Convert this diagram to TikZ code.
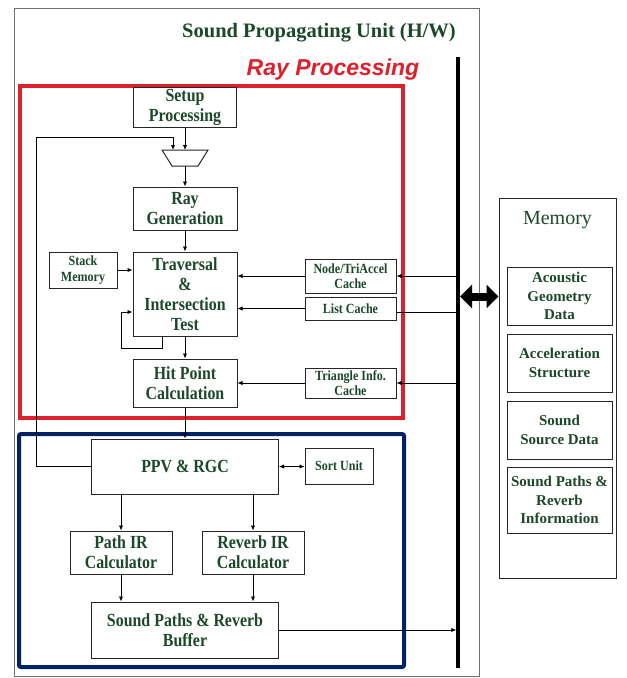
\documentclass[tikz,border=0pt]{standalone}
\usepackage{fontspec}
\setmainfont{Liberation Serif}
\newfontfamily\condfont[FakeStretch=0.86]{Liberation Serif}
\newfontfamily\arialfont{Liberation Sans}
\usetikzlibrary{arrows.meta}
\definecolor{txtgreen}{RGB}{28,72,42}
\definecolor{raybox}{RGB}{222,32,44}
\definecolor{navybox}{RGB}{0,33,99}
\definecolor{spugray}{RGB}{110,110,110}
\begin{document}
\begin{tikzpicture}[x=1pt,y=-1pt,
 blk/.style={draw=black!85, line width=1pt, fill=white, text=txtgreen, align=center, inner sep=0pt, font=\condfont\fontsize{18.5}{20}\selectfont\bfseries},
 smallblk/.style={blk, font=\condfont\fontsize{14}{15.5}\selectfont\bfseries},
 memblk/.style={blk, font=\fontsize{15}{18.5}\selectfont\bfseries},
 conn/.style={draw=black, line width=0.9pt, -{Latex[length=5pt,width=4.5pt]}},
 plainline/.style={draw=black, line width=0.9pt},
 bigarrow/.style={draw=black, fill=black, line width=8pt, {Triangle[length=12pt 0 0,width=23pt 0 0]}-{Triangle[length=12pt 0 0,width=23pt 0 0]}},
]
\useasboundingbox (0,0) rectangle (627,678);
% outer unit
\draw[spugray, line width=1pt] (14,8) rectangle (479,676);
\node[text=txtgreen, font=\fontsize{20.5}{24}\selectfont\bfseries] (title) at (319,33) {Sound Propagating Unit (H/W)};
\node[text=raybox, font=\arialfont\fontsize{23}{26}\selectfont\bfseries\itshape] (raytitle) at (333,70) {Ray Processing};
% group frames
\draw[raybox, line width=4pt] (20,86) rectangle (403,418);
\draw[navybox, line width=4pt, rounded corners=2pt] (19,434) rectangle (404,667);
% bus
\coordinate (bustop) at (458,57);
\coordinate (busbot) at (458,668);
\draw[black, line width=3.5pt] (bustop) -- (busbot);
% ray processing blocks
\node[blk, minimum width=103pt, minimum height=40pt] (setup) at (185,107) {Setup\\Processing};
\coordinate (muxtop) at (185,150);
\coordinate (muxbot) at (185,166);
\coordinate (muxin) at (173,150);
\draw[draw=black!85, line width=1pt, fill=white] (162,150) -- (208,150) -- (198,166) -- (172,166) -- cycle;
\node[blk, minimum width=104pt, minimum height=43pt] (raygen) at (185,208.5) {Ray\\Generation};
\node[blk, minimum width=104pt, minimum height=84pt] (trav) at (185,294) {Traversal\\\&\\Intersection\\Test};
\node[blk, minimum width=104pt, minimum height=48pt] (hit) at (185,383) {Hit Point\\Calculation};
\node[smallblk, minimum width=68pt, minimum height=36pt] (stack) at (83,270) {Stack\\Memory};
\node[smallblk, minimum width=91pt, minimum height=34pt] (nodecache) at (350.5,276) {Node/TriAccel\\Cache};
\node[smallblk, minimum width=91pt, minimum height=23pt] (listcache) at (350.5,308.5) {List Cache};
\node[smallblk, minimum width=91pt, minimum height=30pt] (tricache) at (350.5,383) {Triangle Info.\\Cache};
% sound blocks
\node[blk, minimum width=187pt, minimum height=55pt] (ppv) at (185,466.5) {PPV \& RGC};
\node[smallblk, minimum width=68pt, minimum height=36pt] (sort) at (339,466) {Sort Unit};
\node[blk, minimum width=102pt, minimum height=43pt] (pathir) at (121,552.5) {Path IR\\Calculator};
\node[blk, minimum width=102pt, minimum height=43pt] (revir) at (253,552.5) {Reverb IR\\Calculator};
\node[blk, minimum width=187pt, minimum height=56pt] (buffer) at (185,630) {Sound Paths \& Reverb\\Buffer};
% memory
\node[draw=black!85, line width=1pt, minimum width=117pt, minimum height=380pt] (mem) at (557.5,388) {};
\node[text=txtgreen, font=\fontsize{20}{24}\selectfont] (memtitle) at (557.5,220) {Memory};
\node[memblk, minimum width=105pt, minimum height=58pt] (m1) at (559.5,296) {Acoustic\\Geometry\\Data};
\node[memblk, minimum width=105pt, minimum height=58pt] (m2) at (559.5,363) {Acceleration\\Structure};
\node[memblk, minimum width=105pt, minimum height=58pt] (m3) at (559.5,430) {Sound\\Source Data};
\node[memblk, minimum width=105pt, minimum height=66pt] (m4) at (559.5,500) {Sound Paths \&\\Reverb\\Information};
% connectors
\draw[conn] (setup.south) -- (muxtop);
\draw[conn] (muxbot) -- (raygen.north);
\draw[conn] (raygen.south) -- (trav.north);
\draw[conn] (trav.south) -- (hit.north);
\draw[conn] (hit.south) -- (hit.south |- ppv.north);
\draw[conn] (ppv.west) -- ++(-55,0) |- ([yshift=13pt]muxin) -- (muxin);
\draw[conn] (stack.east) -- (stack.east -| trav.west);
\coordinate (loopin) at ([yshift=-18pt]trav.west);
\draw[conn] ([xshift=30pt]trav.south west) -- ++(0,12) -- ++(-41,0) |- (loopin);
\draw[conn] (nodecache.west) -- (nodecache.west -| trav.east);
\draw[conn] (listcache.west) -- (listcache.west -| trav.east);
\draw[conn] (tricache.west) -- (tricache.west -| hit.east);
\draw[conn, shorten <=1.75pt] (nodecache.east -| bustop) -- (nodecache.east);
\draw[plainline] ([yshift=-3.5pt]listcache.east) -- ([yshift=-3.5pt]listcache.east -| bustop);
\draw[conn, shorten <=1.75pt] (tricache.east -| bustop) -- (tricache.east);
\draw[draw=black, line width=0.9pt, {Latex[length=5pt,width=4.5pt]}-{Latex[length=5pt,width=4.5pt]}] (ppv.east) -- (ppv.east -| sort.west);
\draw[conn] (pathir.north |- ppv.south) -- (pathir.north);
\draw[conn] (revir.north |- ppv.south) -- (revir.north);
\draw[conn] (pathir.south) -- (pathir.south |- buffer.north);
\draw[conn] (revir.south) -- (revir.south |- buffer.north);
\draw[conn, shorten >=1.75pt] (buffer.east) -- (buffer.east -| bustop);
\coordinate (busarrow) at (458,296.5);
\draw[bigarrow] ([xshift=2pt]busarrow) -- (mem.west |- busarrow);
\end{tikzpicture}
\end{document}
